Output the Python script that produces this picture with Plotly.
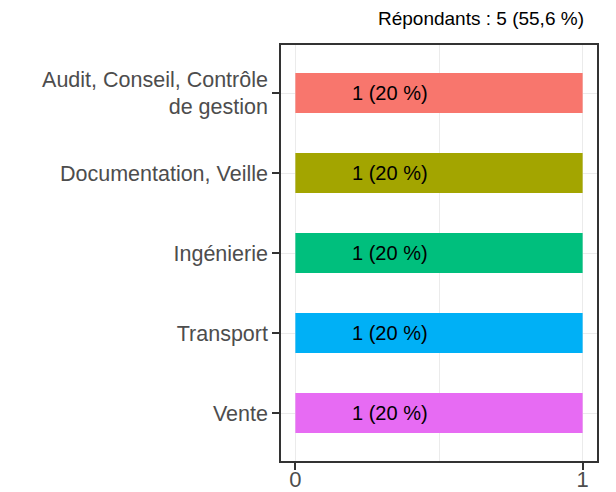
import plotly.graph_objects as go

# data
categories = ['Audit, Conseil, Contrôle<br>de gestion', 'Documentation, Veille',
              'Ingénierie', 'Transport', 'Vente']
counts = [1, 1, 1, 1, 1]
labels = ['1 (20 %)', '1 (20 %)', '1 (20 %)', '1 (20 %)', '1 (20 %)']
colors = ['#F8766D', '#A3A500', '#00BF7D', '#00B0F6', '#E76BF3']
title_text = 'Répondants : 5 (55,6 %)'

fig = go.Figure()
fig.add_trace(go.Bar(
    x=counts, y=categories, orientation='h',
    marker=dict(color=colors, line=dict(width=0)),
    width=0.5, hoverinfo='skip',
))

# bar labels, placed about a third of the way along the axis like the source
for cat, lab in zip(categories, labels):
    fig.add_annotation(x=0.33, y=cat, text=lab, showarrow=False,
                       font=dict(size=20, color='black'), xanchor='center')

# page body has an 8px margin, so the figure is a bit smaller than the window
fig.update_layout(
    width=608, height=484,
    margin=dict(l=273, r=19, t=37, b=31),
    plot_bgcolor='white', paper_bgcolor='white',
    font=dict(family='Liberation Sans, Arial, sans-serif'),
    showlegend=False,
    annotations=list(fig.layout.annotations) + [dict(
        text=title_text, xref='paper', yref='paper', x=0.966, y=1,
        xanchor='right', yanchor='bottom', yshift=14, showarrow=False,
        font=dict(size=19, color='black'))],
)
fig.update_xaxes(
    range=[-0.05, 1.05], tickvals=[0, 1], ticktext=['0', '1'],
    showgrid=True, gridcolor='#ebebeb', gridwidth=1,
    minor=dict(tickvals=[0.5], showgrid=True, gridcolor='#ebebeb', gridwidth=1, ticks=''),
    ticks='outside', ticklen=7, tickcolor='#333333', tickwidth=1.5,
    ticklabelstandoff=-9,
    tickfont=dict(size=22, color='#4d4d4d'),
    showline=True, linecolor='#333333', linewidth=1.5, mirror=True,
    zeroline=False, automargin=False,
)
fig.update_yaxes(
    range=[4.6, -0.6], automargin=False,
    showgrid=True, gridcolor='#ebebeb', gridwidth=1,
    ticks='outside', ticklen=7, tickcolor='#333333', tickwidth=1.5,
    tickfont=dict(size=21.5, color='#4d4d4d'),
    showline=True, linecolor='#333333', linewidth=1.5, mirror=True,
)

fig.write_html("out.html")
